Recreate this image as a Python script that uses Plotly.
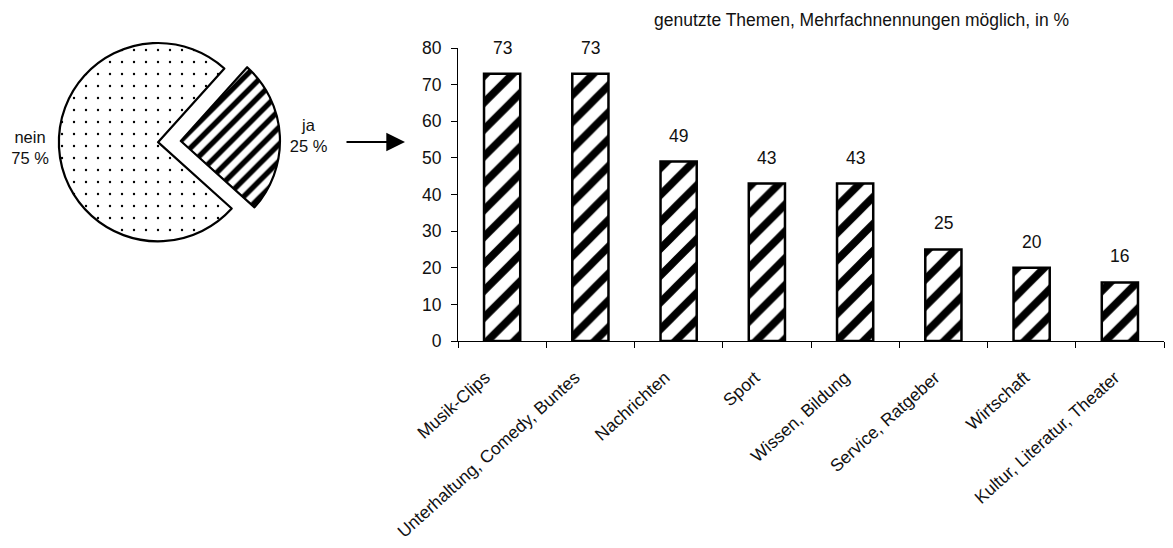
import plotly.graph_objects as go

# ---- data ----
pie_labels = ["ja", "nein"]
pie_values = [25, 75]

categories = [
    "Musik-Clips",
    "Unterhaltung, Comedy, Buntes",
    "Nachrichten",
    "Sport",
    "Wissen, Bildung",
    "Service, Ratgeber",
    "Wirtschaft",
    "Kultur, Literatur, Theater",
]
values = [73, 73, 49, 43, 43, 25, 20, 16]
y_ticks = [0, 10, 20, 30, 40, 50, 60, 70, 80]
title_text = "genutzte Themen, Mehrfachnennungen möglich, in %"

FONT = "Liberation Sans, Arial, sans-serif"
FS = 17.5
OFF = 8            # default page body margin
FW, FH = 1173 - 2 * OFF, 548 - 2 * OFF


def px(x):
    return (x - OFF) / FW


def py(y):
    return 1 - (y - OFF) / FH


fig = go.Figure()

fig.add_trace(go.Pie(
    labels=pie_labels,
    values=pie_values,
    sort=False,
    direction="clockwise",
    rotation=42,
    pull=[0.2, 0.03],
    textposition="outside",
    texttemplate="%{label}<br>%{value} %",
    textfont=dict(family=FONT, size=16.5, color="#111"),
    marker=dict(
        colors=["white", "white"],
        line=dict(color="black", width=2.2),
        pattern=dict(
            shape=["/", "."],
            fgcolor="black",
            bgcolor="white",
            fgopacity=1,
            size=[12, 12],
            solidity=[0.45, 0.03],
        ),
    ),
    domain=dict(x=[px(42), px(280)], y=[py(261), py(23)]),
    showlegend=False,
    hoverinfo="skip",
    automargin=False,
))

fig.add_trace(go.Bar(
    x=categories,
    y=values,
    width=0.41,
    marker=dict(
        color="white",
        line=dict(color="black", width=2.5),
        pattern=dict(shape="/", fgcolor="black", bgcolor="white", fgopacity=1,
                     size=19, solidity=0.4),
    ),
    showlegend=False,
    hoverinfo="skip",
))

# invisible companion trace that carries the category tick labels
fig.add_trace(go.Scatter(
    x=categories, y=values, xaxis="x2", yaxis="y",
    mode="markers", marker=dict(opacity=0, size=1),
    showlegend=False, hoverinfo="skip",
))

annotations = []
for c, v in zip(categories, values):
    annotations.append(dict(
        x=c, y=v, xref="x", yref="y", text=str(v), showarrow=False,
        yanchor="bottom", yshift=14,
        font=dict(family=FONT, size=FS, color="#111"),
    ))

annotations.append(dict(
    x=px(861), y=py(20), xref="paper", yref="paper", text=title_text,
    showarrow=False, xanchor="center", yanchor="middle",
    font=dict(family=FONT, size=FS, color="#111"),
))

annotations.append(dict(
    x=px(405), y=py(142), xref="paper", yref="paper", text="",
    showarrow=True, ax=-60, ay=0, axref="pixel", ayref="pixel",
    arrowhead=2, arrowsize=1.7, arrowwidth=2.2, arrowcolor="black",
))

fig.update_layout(
    template="none",
    width=FW, height=FH,
    margin=dict(l=0, r=0, t=0, b=0),
    paper_bgcolor="white",
    plot_bgcolor="rgba(0,0,0,0)",
    font=dict(family=FONT, size=FS, color="#111"),
    bargap=0.59,
    annotations=annotations,
    xaxis=dict(
        domain=[px(458), px(1164)],
        automargin=False,
        showline=True, linecolor="black", linewidth=1.2,
        ticks="outside", tickson="boundaries", ticklen=6, tickcolor="black",
        showticklabels=False,
        showgrid=False, zeroline=False,
    ),
    xaxis2=dict(
        domain=[px(447), px(1153)],
        anchor="y",
        automargin=False,
        showline=False, ticks="", showgrid=False, zeroline=False,
        tickangle=-42,
        tickfont=dict(family=FONT, size=FS, color="#111"),
        ticklabelstandoff=22,
    ),
    yaxis=dict(
        domain=[py(341), py(48)],
        automargin=False,
        range=[0, 80],
        tickvals=y_ticks,
        showline=True, linecolor="black", linewidth=1.2,
        ticks="outside", ticklen=6, tickcolor="black",
        tickfont=dict(family=FONT, size=FS, color="#111"),
        showgrid=False, zeroline=False,
        ticklabelstandoff=6,
    ),
)

fig.write_html("out.html")
